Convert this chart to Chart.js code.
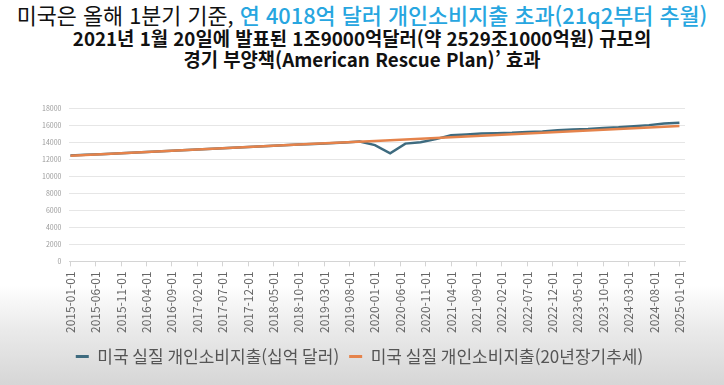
<!DOCTYPE html>
<html lang="ko">
<head>
<meta charset="utf-8">
<title>미국 실질 개인소비지출</title>
<script src="https://cdn.jsdelivr.net/npm/chart.js@4.4.1/dist/chart.umd.min.js"></script>
<style>
    html, body {
        margin: 0;
        padding: 0;
    }
    body {
        width: 724px;
        height: 385px;
        position: relative;
        overflow: hidden;
        background: linear-gradient(180deg, #ffffff 0px, #ffffff 285px, #eaeaea 330px, #d6d6d6 385px);
        font-family: 'Noto Sans CJK KR', 'Noto Sans', sans-serif;
    }
    .title {
        position: absolute;
        left: 0;
        width: 724px;
        text-align: center;
        white-space: nowrap;
        color: #111;
    }
    #line1 { top: 2px; font-size: 21.8px; line-height: 26px; }
    #line1 .hl { color: #27a6e0; font-weight: 500; }
    #line2 { top: 27px; font-size: 18.8px; line-height: 22px; font-weight: 700; }
    #line3 { top: 48px; font-size: 18.8px; line-height: 22px; font-weight: 700; }
    #chartWrap {
        position: absolute;
        left: 0;
        top: 0;
        width: 724px;
        height: 385px;
    }
</style>
</head>
<body>
<div class="title" id="line1">미국은 올해 1분기 기준, <span class="hl">연 4018억 달러 개인소비지출 초과(21q2부터 추월)</span></div>
<div class="title" id="line2">2021년 1월 20일에 발표된 1조9000억달러(약 2529조1000억원) 규모의</div>
<div class="title" id="line3">경기 부양책(American Rescue Plan)’ 효과</div>
<div id="chartWrap"><canvas id="chart"></canvas></div>
<script>
// x axis labels (one every 5 months, starting 2015-01)
const tickLabels = [
    '2015-01-01', '2015-06-01', '2015-11-01', '2016-04-01', '2016-09-01',
    '2017-02-01', '2017-07-01', '2017-12-01', '2018-05-01', '2018-10-01',
    '2019-03-01', '2019-08-01', '2020-01-01', '2020-06-01', '2020-11-01',
    '2021-04-01', '2021-09-01', '2022-02-01', '2022-07-01', '2022-12-01',
    '2023-05-01', '2023-10-01', '2024-03-01', '2024-08-01', '2025-01-01'
];

// Series names
const seriesNames = [
    '미국 실질 개인소비지출(십억 달러)',
    '미국 실질 개인소비지출(20년장기추세)'
];

// Real PCE, quarterly (months since 2015-01)
const spendMonths = [
    0, 3, 6, 9, 12, 15, 18, 21, 24, 27,
    30, 33, 36, 39, 42, 45, 48, 51, 54, 57,
    60, 63, 66, 69, 72, 75, 78, 81, 84, 87,
    90, 93, 96, 99, 102, 105, 108, 111, 114, 117,
    120
];
const spendValues = [
    12420, 12500, 12580, 12660, 12750, 12840, 12920, 13010, 13090, 13180,
    13270, 13360, 13440, 13530, 13620, 13710, 13780, 13870, 13960, 14060,
    13650, 12680, 13820, 13980, 14350, 14800, 14900, 15000, 15050, 15090,
    15180, 15250, 15400, 15470, 15540, 15650, 15730, 15850, 15990, 16170,
    16280
];

// 20-year long-term trend
const trendMonths = [0, 12, 24, 36, 48, 60, 72, 84, 96, 108, 120];
const trendValues = [12400, 12750, 13090, 13440, 13790, 14130, 14480, 14830, 15180, 15540, 15890];

const BLUE = '#3e6b7f';
const ORANGE = '#e5834b';

function toPoints(xs, ys) {
    return xs.map((x, i) => ({ x: x, y: ys[i] }));
}

// Initialize chart
function initChart() {
    const ctx = document.getElementById('chart').getContext('2d');
    const font = "'Noto Sans CJK KR', 'Noto Sans', sans-serif";

    new Chart(ctx, {
        type: 'line',
        data: {
            datasets: [{
                label: seriesNames[0],
                data: toPoints(spendMonths, spendValues),
                borderColor: BLUE,
                backgroundColor: BLUE,
                borderWidth: 2.5,
                pointRadius: 0,
                tension: 0,
                order: 1
            }, {
                label: seriesNames[1],
                data: toPoints(trendMonths, trendValues),
                borderColor: ORANGE,
                backgroundColor: ORANGE,
                borderWidth: 2.5,
                pointRadius: 0,
                tension: 0,
                order: 0
            }]
        },
        options: {
            responsive: false,
            animation: false,
            devicePixelRatio: 1,
            layout: {
                padding: { top: 108, left: 34, right: 39, bottom: 10 }
            },
            plugins: {
                title: { display: false },
                tooltip: { enabled: false },
                legend: {
                    position: 'bottom',
                    labels: {
                        color: '#555',
                        font: { family: font, size: 17 },
                        boxWidth: 13,
                        boxHeight: 3,
                        padding: 10,
                        sort: (a, b) => a.datasetIndex - b.datasetIndex,
                        generateLabels: (chart) => {
                            const items = Chart.defaults.plugins.legend.labels.generateLabels(chart);
                            items.forEach(item => {
                                item.fillStyle = item.strokeStyle;
                                item.lineWidth = 0;
                            });
                            return items;
                        }
                    }
                }
            },
            scales: {
                x: {
                    type: 'linear',
                    min: -0.2,
                    max: 121.1,
                    afterBuildTicks: (scale) => {
                        scale.ticks = tickLabels.map((_, i) => ({ value: i * 5 }));
                    },
                    grid: {
                        drawOnChartArea: false,
                        drawTicks: true,
                        tickLength: 5,
                        color: '#d4d4d4'
                    },
                    border: { display: true, color: '#d4d4d4' },
                    ticks: {
                        autoSkip: false,
                        minRotation: 90,
                        maxRotation: 90,
                        padding: 5,
                        color: '#666',
                        font: { family: font, size: 12 },
                        callback: (value) => tickLabels[Math.round(value / 5)]
                    }
                },
                y: {
                    min: 0,
                    max: 18000,
                    grid: {
                        color: '#e6e6e6',
                        drawTicks: false
                    },
                    border: { display: false },
                    ticks: {
                        stepSize: 2000,
                        padding: 8,
                        color: '#9a9a9a',
                        font: { family: font, size: 7 },
                        callback: (value) => String(value)
                    }
                }
            }
        }
    });
}

document.getElementById('chart').width = 724;
document.getElementById('chart').height = 385;
initChart();
</script>
</body>
</html>
